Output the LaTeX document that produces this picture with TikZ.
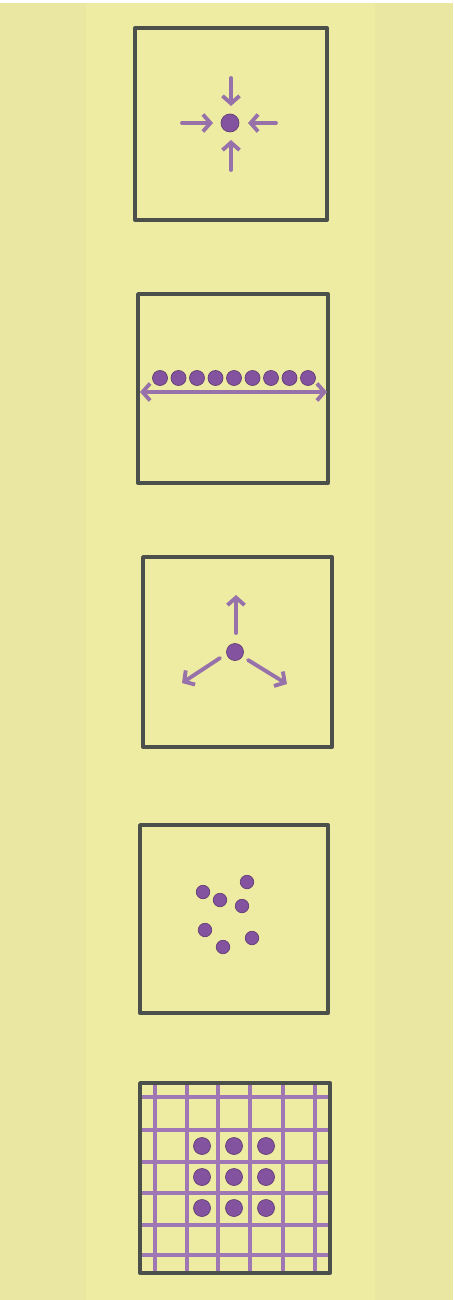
\documentclass[tikz,border=0pt]{standalone}
\usetikzlibrary{arrows.meta}
\definecolor{paper}{HTML}{EAE7A3}
\definecolor{strip}{HTML}{EEEBA2}
\definecolor{ink}{HTML}{4C504A}
\definecolor{plum}{HTML}{84539F}
\definecolor{lilac}{HTML}{9772AA}
\definecolor{gridc}{HTML}{A077B5}
\begin{document}
\begin{tikzpicture}[x=0.02cm,y=-0.02cm,
    >={Straight Barb[length=1.5mm,width=3.4mm]},
    frame/.style={draw=ink,line width=2.2pt,line join=round},
    dot/.style={circle,fill=plum,draw=plum!75!black,line width=0.4pt,inner sep=0pt,minimum size=3.4mm},
    flow/.style={draw=lilac,line width=2.2pt,->,line cap=round},
    mesh/.style={draw=gridc,line width=1.9pt}
  ]
  % paper and strip
  \fill[paper] (0,0) rectangle (453,1300);
  \fill[white] (0,0) rectangle (453,3);
  \fill[strip] (86,3) rectangle (375,1300);
  \useasboundingbox (0,0) rectangle (453,1300);

  % panel 1: converging
  \draw[frame] (135,28) rectangle (327,220);
  \node[dot,minimum size=3.6mm] (c1) at (230,123) {};
  \coordinate (w1) at (182,123);  \coordinate (w2) at (213,123);
  \coordinate (e1) at (276,123);  \coordinate (e2) at (248,123);
  \coordinate (n1) at (231,78);   \coordinate (n2) at (231,106);
  \coordinate (s1) at (231,170);  \coordinate (s2) at (231,140);
  \draw[flow] (w1) -- (w2);
  \draw[flow] (e1) -- (e2);
  \draw[flow] (n1) -- (n2);
  \draw[flow] (s1) -- (s2);

  % panel 2: a line of dots
  \draw[frame] (138,294) rectangle (328,483);
  \foreach \i in {0,...,8}
    \node[dot,minimum size=3.0mm] (r\i) at (160+18.5*\i,378) {};
  \coordinate (lw) at (140,392);  \coordinate (le) at (327,392);
  \draw[flow,<->] (lw) -- (le);

  % panel 3: diverging
  \draw[frame] (143,557) rectangle (332,747);
  \node[dot] (c3) at (235,652) {};
  \coordinate (u1) at (236,633);  \coordinate (u2) at (236,595);
  \coordinate (a1) at (220,658);  \coordinate (a2) at (182,683);
  \coordinate (b1) at (248,660);  \coordinate (b2) at (287,684);
  \draw[flow] (u1) -- (u2);
  \draw[flow] (a1) -- (a2);
  \draw[flow] (b1) -- (b2);

  % panel 4: scattered dots
  \draw[frame] (140,825) rectangle (328,1013);
  \foreach \x/\y [count=\k] in {203/892,220/900,247/882,242/906,205/930,223/947,252/938}
    \node[dot,minimum size=2.7mm] (q\k) at (\x,\y) {};

  % panel 5: grid with 3x3 dots
  \foreach \x in {155,187,218,250,283,315}
    \draw[mesh] (\x,1083) -- (\x,1273);
  \foreach \y in {1097,1130,1162,1193,1225,1255}
    \draw[mesh] (140,\y) -- (330,\y);
  \draw[frame] (140,1083) rectangle (330,1273);
  \foreach \x [count=\i] in {202,234,266}
    \foreach \y [count=\j] in {1146,1177,1208}
      \node[dot] (g\i\j) at (\x,\y) {};
\end{tikzpicture}
\end{document}
